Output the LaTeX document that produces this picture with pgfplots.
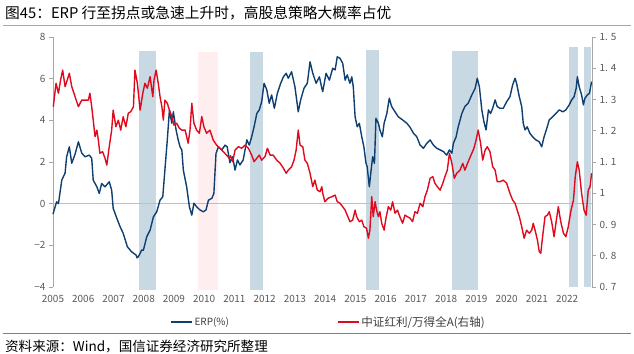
\documentclass[border=0pt]{standalone}
\usepackage{pgfplots}
\pgfplotsset{compat=1.18}
\usepackage{fontspec}
\setmainfont{Noto Sans CJK SC}
\definecolor{erpblue}{HTML}{0E3F70}
\definecolor{divred}{HTML}{E00A1E}
\definecolor{bandblue}{HTML}{C9D9E4}
\definecolor{bandpink}{HTML}{FEEEF0}
\definecolor{ticklab}{HTML}{595959}
\definecolor{axisgray}{HTML}{A6A6A6}

\pgfplotstableread{
x y
2005.00 -0.50
2005.12 0.09
2005.18 0.00
2005.29 1.13
2005.40 1.47
2005.45 2.25
2005.54 2.73
2005.62 1.94
2005.73 2.38
2005.84 2.97
2005.95 2.43
2006.06 2.25
2006.20 2.33
2006.28 2.18
2006.33 1.13
2006.45 0.81
2006.53 0.49
2006.61 0.97
2006.72 0.81
2006.86 1.05
2006.94 0.65
2006.99 -0.22
2007.11 -0.70
2007.22 -1.11
2007.32 -1.42
2007.46 -2.07
2007.60 -2.31
2007.75 -2.47
2007.78 -2.60
2007.82 -2.55
2007.88 -2.39
2007.93 -2.23
2007.99 -2.23
2008.10 -1.59
2008.21 -1.27
2008.32 -0.63
2008.43 -0.39
2008.54 0.17
2008.63 0.33
2008.70 1.61
2008.78 3.06
2008.85 4.50
2008.93 3.86
2008.98 4.41
2009.07 3.54
2009.14 3.06
2009.20 2.73
2009.26 2.58
2009.31 1.61
2009.42 0.81
2009.51 -0.15
2009.59 -0.55
2009.66 0.02
2009.75 -0.15
2009.86 -0.30
2009.97 -0.39
2010.06 -0.30
2010.14 0.17
2010.25 0.25
2010.32 0.49
2010.39 2.41
2010.47 2.73
2010.58 2.58
2010.69 2.81
2010.76 2.73
2010.85 1.97
2010.94 2.25
2011.02 1.61
2011.10 2.10
2011.18 1.86
2011.29 2.10
2011.41 3.06
2011.49 2.81
2011.57 3.21
2011.65 3.69
2011.74 4.33
2011.82 4.50
2011.90 4.89
2011.98 5.78
2012.07 5.46
2012.15 4.82
2012.23 5.22
2012.32 4.58
2012.42 5.30
2012.53 5.78
2012.62 6.09
2012.71 6.26
2012.78 6.02
2012.89 6.33
2013.00 5.61
2013.11 4.41
2013.19 4.98
2013.30 5.54
2013.41 5.78
2013.50 6.81
2013.59 6.26
2013.70 5.78
2013.81 6.09
2013.89 5.54
2013.92 5.38
2014.03 6.26
2014.14 5.93
2014.25 6.50
2014.33 6.42
2014.40 7.05
2014.49 6.98
2014.58 6.74
2014.66 5.93
2014.73 6.18
2014.82 5.78
2014.88 6.09
2014.93 5.61
2014.99 4.17
2015.06 3.69
2015.13 3.86
2015.21 3.21
2015.28 2.73
2015.35 1.94
2015.39 1.77
2015.46 0.81
2015.52 1.61
2015.57 2.25
2015.63 1.94
2015.68 4.10
2015.76 3.86
2015.81 3.54
2015.89 3.21
2015.95 3.86
2016.04 4.33
2016.12 5.06
2016.20 4.66
2016.31 4.41
2016.42 4.17
2016.56 4.02
2016.70 3.86
2016.81 3.66
2016.92 3.38
2017.03 3.21
2017.14 2.81
2017.25 2.66
2017.36 2.90
2017.47 3.06
2017.58 2.81
2017.69 2.66
2017.80 2.58
2017.91 2.50
2018.02 2.33
2018.11 2.58
2018.19 2.42
2018.24 2.90
2018.33 3.21
2018.40 3.69
2018.52 4.33
2018.62 4.66
2018.73 4.82
2018.85 5.22
2018.96 5.54
2019.03 6.02
2019.10 5.61
2019.18 4.50
2019.25 3.93
2019.32 3.54
2019.40 4.50
2019.47 4.33
2019.54 4.58
2019.62 4.98
2019.69 4.66
2019.78 4.58
2019.89 4.58
2020.00 4.89
2020.11 5.13
2020.20 5.70
2020.28 6.02
2020.33 5.78
2020.42 5.13
2020.50 4.66
2020.55 3.86
2020.61 3.54
2020.68 3.69
2020.77 3.38
2020.86 3.21
2020.97 3.06
2021.08 2.97
2021.16 2.73
2021.24 3.21
2021.33 3.62
2021.41 4.02
2021.52 4.17
2021.63 4.33
2021.74 4.50
2021.86 4.41
2021.96 4.50
2022.07 4.74
2022.15 4.98
2022.23 5.13
2022.30 5.54
2022.34 6.09
2022.40 5.61
2022.48 5.22
2022.54 4.74
2022.59 5.06
2022.67 5.22
2022.74 5.30
2022.81 5.86
}\erptable

\pgfplotstableread{
x y
2005.01 1.277
2005.10 1.352
2005.18 1.320
2005.25 1.362
2005.32 1.394
2005.40 1.341
2005.47 1.362
2005.54 1.384
2005.62 1.341
2005.73 1.309
2005.84 1.277
2005.95 1.298
2006.06 1.298
2006.17 1.298
2006.22 1.320
2006.28 1.277
2006.33 1.234
2006.39 1.181
2006.45 1.202
2006.50 1.170
2006.55 1.128
2006.64 1.133
2006.72 1.112
2006.78 1.090
2006.86 1.149
2006.94 1.202
2006.99 1.266
2007.08 1.213
2007.16 1.234
2007.24 1.202
2007.32 1.245
2007.41 1.213
2007.49 1.256
2007.57 1.261
2007.66 1.277
2007.71 1.394
2007.79 1.352
2007.88 1.266
2007.97 1.320
2008.04 1.352
2008.12 1.336
2008.21 1.373
2008.30 1.309
2008.34 1.362
2008.41 1.394
2008.48 1.352
2008.54 1.309
2008.60 1.277
2008.65 1.234
2008.70 1.298
2008.78 1.288
2008.85 1.266
2008.93 1.245
2009.00 1.218
2009.09 1.224
2009.18 1.208
2009.26 1.202
2009.37 1.202
2009.47 1.160
2009.53 1.202
2009.59 1.288
2009.66 1.224
2009.75 1.202
2009.84 1.192
2009.92 1.245
2009.99 1.213
2010.08 1.192
2010.19 1.202
2010.30 1.170
2010.41 1.154
2010.52 1.144
2010.63 1.133
2010.74 1.122
2010.83 1.112
2010.87 1.120
2010.94 1.101
2011.02 1.138
2011.13 1.149
2011.24 1.144
2011.35 1.154
2011.46 1.144
2011.57 1.122
2011.65 1.101
2011.74 1.112
2011.82 1.122
2011.90 1.106
2012.01 1.117
2012.09 1.144
2012.18 1.122
2012.28 1.122
2012.40 1.106
2012.51 1.096
2012.62 1.080
2012.71 1.064
2012.78 1.074
2012.89 1.085
2012.97 1.106
2013.04 1.138
2013.11 1.202
2013.17 1.154
2013.26 1.149
2013.33 1.106
2013.41 1.096
2013.50 1.064
2013.59 1.021
2013.66 1.042
2013.74 1.010
2013.83 1.005
2013.89 1.021
2013.92 1.000
2013.99 0.973
2014.10 0.984
2014.22 0.989
2014.33 0.994
2014.40 0.973
2014.49 0.968
2014.58 0.957
2014.66 0.946
2014.73 0.930
2014.82 0.909
2014.91 0.914
2014.99 0.946
2015.04 0.925
2015.13 0.909
2015.21 0.914
2015.28 0.893
2015.37 0.888
2015.43 0.856
2015.48 0.882
2015.54 0.989
2015.59 0.925
2015.65 0.973
2015.70 0.946
2015.76 0.925
2015.81 0.941
2015.87 0.904
2015.95 0.882
2016.01 0.920
2016.09 0.957
2016.17 0.946
2016.23 0.973
2016.31 0.936
2016.39 0.946
2016.47 0.925
2016.56 0.904
2016.64 0.930
2016.72 0.925
2016.81 0.920
2016.89 0.909
2016.97 0.941
2017.05 0.936
2017.14 0.968
2017.23 0.957
2017.30 0.989
2017.38 1.010
2017.47 1.048
2017.56 1.053
2017.63 1.032
2017.71 1.021
2017.80 1.010
2017.89 1.032
2017.96 1.053
2018.04 1.074
2018.11 1.128
2018.19 1.096
2018.27 1.048
2018.35 1.064
2018.46 1.074
2018.55 1.096
2018.62 1.074
2018.73 1.101
2018.85 1.128
2018.92 1.144
2018.99 1.170
2019.06 1.202
2019.14 1.160
2019.21 1.106
2019.29 1.138
2019.36 1.149
2019.45 1.133
2019.54 1.085
2019.62 1.074
2019.69 1.037
2019.78 1.037
2019.89 1.042
2020.00 1.032
2020.11 1.000
2020.20 0.978
2020.28 0.968
2020.35 0.946
2020.42 0.925
2020.50 0.893
2020.58 0.856
2020.66 0.882
2020.75 0.872
2020.83 0.882
2020.88 0.904
2020.94 0.882
2021.02 0.850
2021.08 0.813
2021.13 0.808
2021.19 0.861
2021.27 0.925
2021.35 0.930
2021.41 0.941
2021.49 0.909
2021.57 0.861
2021.63 0.904
2021.71 0.957
2021.79 0.909
2021.88 0.872
2021.96 0.861
2022.04 0.893
2022.12 0.941
2022.21 0.978
2022.27 1.053
2022.34 1.101
2022.40 1.074
2022.48 1.000
2022.56 0.946
2022.63 0.930
2022.70 1.010
2022.76 1.021
2022.81 1.064
}\redtable

\begin{document}
\begin{tikzpicture}
\path[use as bounding box] (0bp,0bp) rectangle (634bp,354bp);
\node[anchor=west, inner sep=0pt, font=\fontsize{14.8}{16}\selectfont] at (5bp,341bp) {图45：ERP 行至拐点或急速上升时，高股息策略大概率占优};
\draw[black!35, line width=1bp] (3bp,328bp) -- (631bp,328bp);
\draw[black!50, line width=0.8bp] (3bp,21bp) -- (631bp,21bp);
\node[anchor=west, inner sep=0pt, font=\fontsize{13.6}{15}\selectfont] at (5bp,8bp) {资料来源：Wind，国信证券经济研究所整理};

\begin{axis}[
  at={(53bp,67bp)}, anchor=south west,
  scale only axis, width=539bp, height=250bp,
  xmin=2005, xmax=2022.824, ymin=-4, ymax=8,
  axis y line*=left, axis x line*=bottom,
  x axis line style={draw=none},
  y axis line style={draw=axisgray, line width=0.8bp, -},
  xtick={2005,2006,2007,2008,2009,2010,2011,2012,2013,2014,2015,2016,2017,2018,2019,2020,2021,2022},
  xticklabels={2005,2006,2007,2008,2009,2010,2011,2012,2013,2014,2015,2016,2017,2018,2019,2020,2021,2022},
  xtick style={draw=none},
  ytick={-4,-2,0,2,4,6,8},
  yticklabels={−4,−2,0,2,4,6,8},
  ytick style={draw=axisgray, line width=0.8bp},
  tick align=outside, major tick length=4bp,
  ticklabel style={font=\fontsize{10}{12}\selectfont, text=ticklab},
  xticklabel style={yshift=-1bp},
  clip=false,
]
\addplot[fill=bandblue, draw=none, forget plot] coordinates {(2007.84,-4.144) (2008.41,-4.144) (2008.41,7.328) (2007.84,7.328)} --cycle;
\addplot[fill=bandpink, draw=none, forget plot] coordinates {(2009.79,-4.144) (2010.46,-4.144) (2010.46,7.28) (2009.79,7.28)} --cycle;
\addplot[fill=bandblue, draw=none, forget plot] coordinates {(2011.51,-4.144) (2011.94,-4.144) (2011.94,7.28) (2011.51,7.28)} --cycle;
\addplot[fill=bandblue, draw=none, forget plot] coordinates {(2015.35,-4.144) (2015.78,-4.144) (2015.78,7.376) (2015.35,7.376)} --cycle;
\addplot[fill=bandblue, draw=none, forget plot] coordinates {(2018.19,-4.144) (2019.05,-4.144) (2019.05,7.328) (2018.19,7.328)} --cycle;
\addplot[fill=bandblue, draw=none, forget plot] coordinates {(2022.06,-4) (2022.36,-4) (2022.36,7.52) (2022.06,7.52)} --cycle;
\addplot[fill=bandblue, draw=none, forget plot] coordinates {(2022.56,-4) (2022.80,-4) (2022.80,7.52) (2022.56,7.52)} --cycle;
\addplot[color=black!25, line width=0.7bp, forget plot] coordinates {(2005,0) (2022.824,0)};
\addplot[color=erpblue, line width=1.4bp, line join=round] table[x=x,y=y]{\erptable};
\end{axis}

\begin{axis}[
  at={(53bp,67bp)}, anchor=south west,
  scale only axis, width=539bp, height=250bp,
  xmin=2005, xmax=2022.824, ymin=0.7, ymax=1.5,
  axis y line*=right, axis x line=none,
  y axis line style={draw=axisgray, line width=0.8bp, -},
  ytick={0.7,0.8,0.9,1,1.1,1.2,1.3,1.4,1.5},
  yticklabels={0. 7,0. 8,0. 9,1,1. 1,1. 2,1. 3,1. 4,1. 5},
  ytick style={draw=axisgray, line width=0.8bp},
  tick align=outside, major tick length=4bp,
  ticklabel style={font=\fontsize{10}{12}\selectfont, text=ticklab},
  clip=false,
  legend columns=2,
  legend style={draw=none, fill=none, at={(0.511,-0.14)}, anchor=center,
    font=\fontsize{11.6}{13}\selectfont, text=black!75,
    /tikz/every even column/.append style={column sep=106bp}},
  legend image code/.code={\draw[#1] (0bp,0bp) -- (21bp,0bp);},
]
\addlegendimage{color=erpblue, line width=1.5bp}
\addlegendentry{\fontsize{10}{12}\selectfont ERP(\%)}
\addplot[color=divred, line width=1.4bp, line join=round] table[x=x,y=y]{\redtable};
\addlegendentry{中证红利/万得全A(右轴)}
\end{axis}
\end{tikzpicture}
\end{document}
